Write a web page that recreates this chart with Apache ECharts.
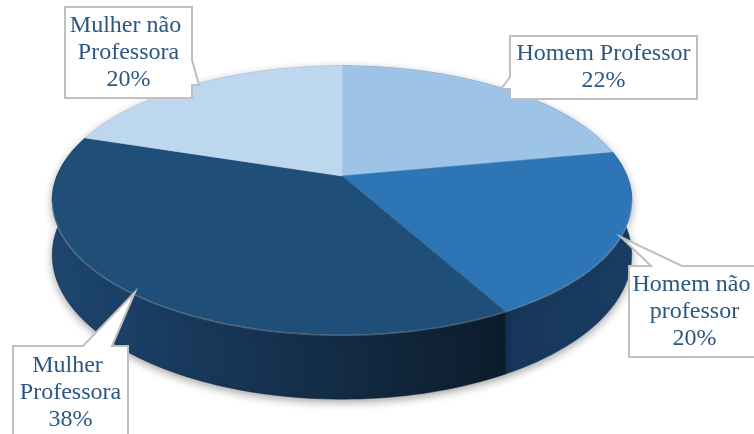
<!DOCTYPE html>
<html>
<head>
<meta charset="utf-8">
<script src="https://cdn.jsdelivr.net/npm/echarts@6/dist/echarts.min.js"></script>
<style>
  html, body { margin: 0; padding: 0; background: #fff; }
  #main { width: 754px; height: 434px; }
</style>
</head>
<body>
<div id="main"></div>
<script>
// dados do gráfico
var categories = ['Homem Professor', 'Homem não professor', 'Mulher Professora', 'Mulher não Professora'];
var values = [22, 20, 38, 20];

// cores (face de cima / lateral esq. / lateral dir.)
var topColors = ['#9DC3E6', '#2E75B6', '#1F4E79', '#BDD7EE'];
var sideLeft = ['#6F92B4', '#17365A', '#1E4670', '#8EA9C2'];
var sideRight = ['#5B7DA0', '#1A3D63', '#0D1C2C', '#7F9BB5'];

// caixas dos rótulos: [x, y, largura, altura], largura de quebra do texto e o ponteiro
var boxes = [[510, 36, 187, 63], [629, 266, 131, 91], [13, 346, 115, 94], [65, 7, 127, 91]];
var wrapWidths = [185, 150, 150, 150];
var pointers = [
    [[510, 77], [501, 89], [510, 89]],   // lado esquerdo
    [[682, 266], [621, 237], [651, 266]], // topo
    [[112, 346], [135, 292], [83, 346]],  // topo
    [[192, 85], [199, 85], [192, 60]]     // lado direito
];

// geometria da pizza 3D (perspectiva simples)
var CX = 342, CY = 176, A = 285, B = 130, P = 0.18, H = 53;
var N = 90;

var total = values.reduce(function (a, b) { return a + b; }, 0);
var starts = [];
var acc = 0;
values.forEach(function (v) { starts.push(acc); acc += v; });
var seriesData = values.map(function (v, i) { return [v, starts[i]]; });

function pt(phi, down) {
    var X = Math.sin(phi), Z = Math.cos(phi), w = 1 + P * Z;
    return [CX + A * X / w, CY + (-B * Z + down) / w];
}

function angles(api) {
    var v = api.value(0), s = api.value(1);
    return [s / total * Math.PI * 2, (s + v) / total * Math.PI * 2];
}

function renderSide(params, api) {
    var a = angles(api);
    var pts = [], i, t;
    for (i = 0; i <= N; i++) { t = a[0] + (a[1] - a[0]) * i / N; pts.push(pt(t, 0)); }
    for (i = N; i >= 0; i--) { t = a[0] + (a[1] - a[0]) * i / N; pts.push(pt(t, H)); }
    var k = params.dataIndex;
    return {
        type: 'polygon',
        shape: { points: pts },
        style: {
            fill: new echarts.graphic.LinearGradient(0, 0, 1, 0, [
                { offset: 0, color: sideLeft[k] },
                { offset: 1, color: sideRight[k] }
            ]),
            stroke: sideRight[k],
            lineWidth: 0.5,
            shadowBlur: 8,
            shadowOffsetY: 3,
            shadowColor: 'rgba(0,0,0,0.35)'
        }
    };
}

function renderTop(params, api) {
    var a = angles(api);
    var pts = [[CX, CY]], rim = [], i, t;
    for (i = 0; i <= N; i++) {
        t = a[0] + (a[1] - a[0]) * i / N;
        pts.push(pt(t, 0));
        if (Math.cos(t) < -P) rim.push(pt(t, 0.6));
    }
    var k = params.dataIndex;
    var children = [{
        type: 'polygon',
        shape: { points: pts },
        style: { fill: topColors[k], stroke: topColors[k], lineWidth: 0.6 }
    }];
    if (rim.length > 1) {
        children.push({
            type: 'polyline',
            shape: { points: rim },
            style: { stroke: 'rgba(255,255,255,0.22)', lineWidth: 1.5, fill: null }
        });
    }
    return { type: 'group', children: children };
}

function renderLabel(params, api) {
    var k = params.dataIndex;
    var b = boxes[k], p = pointers[k];
    var pct = Math.round(api.value(0) / total * 100);
    var x0 = b[0], y0 = b[1], x1 = b[0] + b[2], y1 = b[1] + b[3];
    var outline;
    if (k === 0) {
        outline = [[x0, y0], [x1, y0], [x1, y1], [x0, y1]].concat([p[2], p[1], p[0]]);
    } else if (k === 3) {
        outline = [[x0, y0], [x1, y0]].concat([p[2], p[1], p[0]]).concat([[x1, y1], [x0, y1]]);
    } else {
        outline = [[x0, y0]].concat([p[2], p[1], p[0]]).concat([[x1, y0], [x1, y1], [x0, y1]]);
    }
    return {
        type: 'group',
        children: [{
            type: 'polygon',
            shape: { points: outline },
            style: { fill: '#fff', stroke: '#BFBFBF', lineWidth: 2 }
        }, {
            type: 'text',
            x: (x0 + x1) / 2,
            y: (y0 + y1) / 2,
            style: {
                text: categories[k] + '\n' + pct + '%',
                width: wrapWidths[k],
                overflow: 'break',
                align: 'center',
                verticalAlign: 'middle',
                fontFamily: 'Liberation Serif',
                fontSize: 24,
                lineHeight: 27,
                fill: '#2B5783'
            }
        }]
    };
}

var myChart = echarts.init(document.getElementById('main'));
var option = {
    backgroundColor: '#fff',
    animation: false,
    series: [
        { type: 'custom', coordinateSystem: 'none', data: seriesData, renderItem: renderSide, z: 1, silent: true },
        { type: 'custom', coordinateSystem: 'none', data: seriesData, renderItem: renderTop, z: 2 },
        { type: 'custom', coordinateSystem: 'none', data: seriesData, renderItem: renderLabel, z: 3 }
    ]
};
myChart.setOption(option);
</script>
</body>
</html>
